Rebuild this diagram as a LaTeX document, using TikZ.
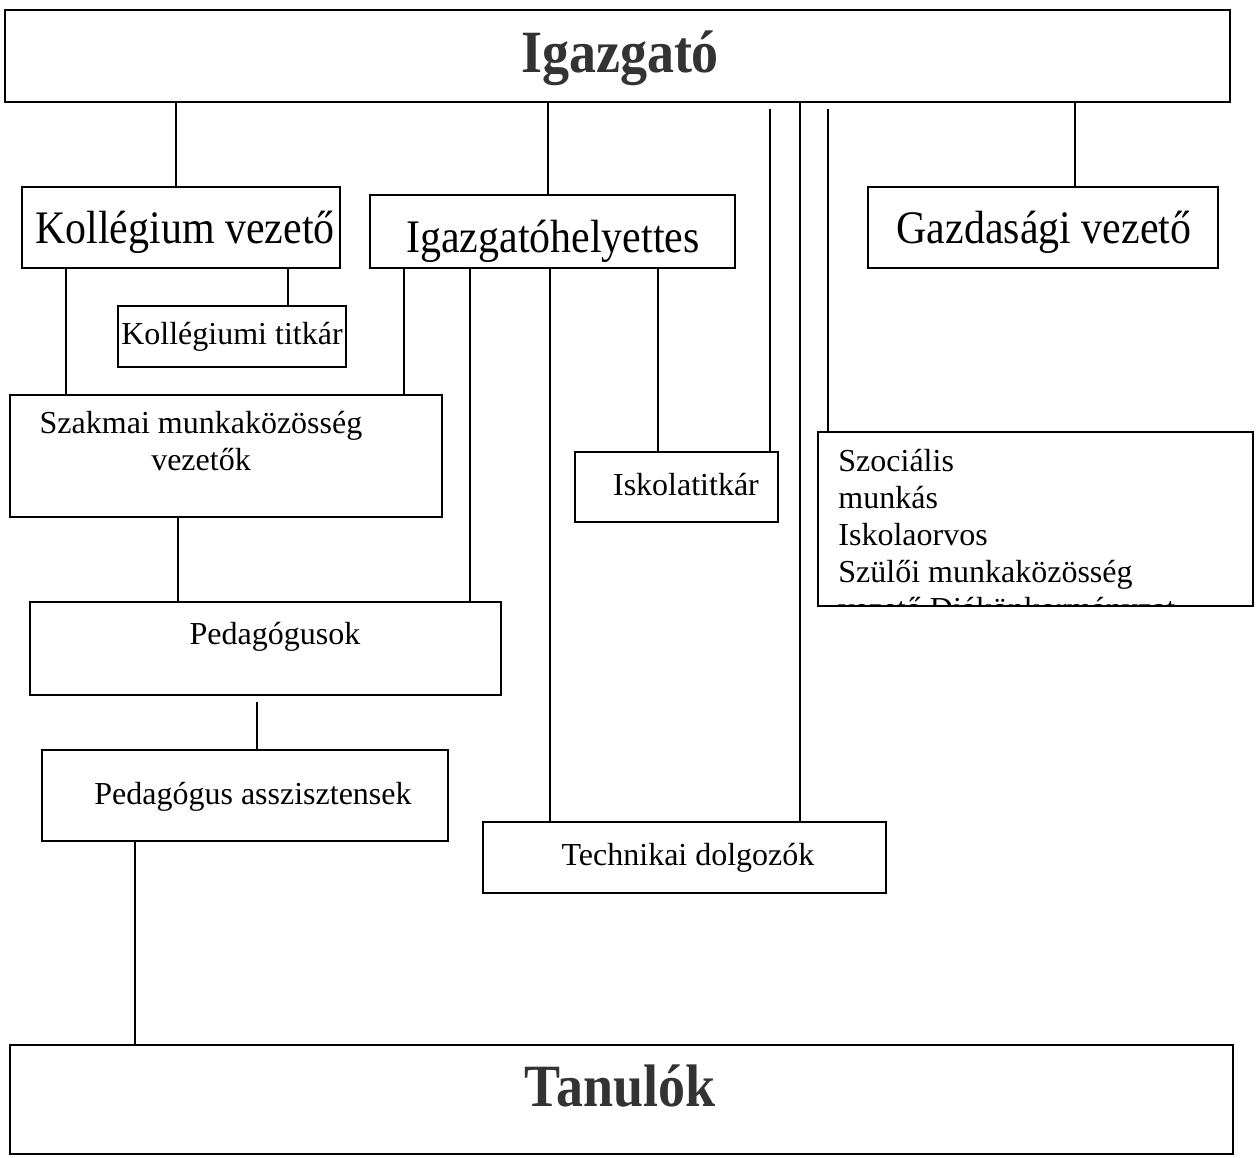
\documentclass[tikz,border=0pt]{standalone}
\usepackage{fontspec}
\setmainfont{Liberation Serif}
\newfontfamily\tallserif[FakeStretch=0.9]{Liberation Serif}
\usetikzlibrary{positioning}

\tikzset{
  box/.style={draw, line width=0.8pt, inner sep=0pt},
  bigtext/.style={font=\tallserif\fontsize{23.3}{27}\selectfont, inner sep=0pt, anchor=base},
  smalltext/.style={font=\fontsize{16}{18.5}\selectfont, inner sep=0pt},
  titletext/.style={font=\tallserif\fontsize{30}{34}\selectfont\bfseries, text=black!80, inner sep=0pt, anchor=base},
  conn/.style={line width=0.75pt}
}

\begin{document}
\begin{tikzpicture}[x=0.5pt, y=-0.5pt]
\useasboundingbox (0,0) rectangle (1260,1158);
% top and bottom
\node[box, minimum width=612.5pt, minimum height=46pt] (igaz) at (617.5,56) {};
\node[titletext] (igaztext) at (620,72) {Igazgató};
\node[box, minimum width=611.5pt, minimum height=54.5pt] (tan) at (621.5,1099.5) {};
\node[titletext] (tantext) at (620,1106) {Tanulók};

% second row
\node[box, minimum width=159pt, minimum height=40.5pt] (kv) at (181,227.5) {};
\node[bigtext] (kvtext) at (185,243) {Kollégium vezető};
\node[box, minimum width=182.5pt, minimum height=36.5pt] (ih) at (552.5,231.5) {};
\node[bigtext] (ihtext) at (553,252) {Igazgatóhelyettes};
\node[box, minimum width=175pt, minimum height=40.5pt] (gv) at (1043,227.5) {};
\node[bigtext] (gvtext) at (1044,243) {Gazdasági vezető};

% the rest
\node[box, smalltext, minimum width=114pt, minimum height=30.5pt] (kt) at (232,336.5) {Kollégiumi titkár};
\node[box, minimum width=216pt, minimum height=61pt] (szm) at (226,456) {};
\node[smalltext, align=center, anchor=north] (szmtext) at (201,411) {Szakmai munkaközösség\\vezetők};
\node[box, minimum width=101.5pt, minimum height=35pt] (it) at (676.5,487) {};
\node[smalltext, anchor=base] (ittext) at (686,495) {Iskolatitkár};
\node[box, minimum width=217.5pt, minimum height=87pt] (szoc) at (1035.5,519) {};
\begin{scope}
\clip (szoc.north west) rectangle (szoc.south east);
\node[smalltext, align=left, anchor=north west] (szoctext) at (838,449) {Szociális\\munkás\\Iskolaorvos\\Szülői munkaközösség\\vezető Diákönkormányzat};
\end{scope}
\node[box, minimum width=235.5pt, minimum height=46.5pt] (ped) at (265.5,648.5) {};
\node[smalltext, anchor=base] (pedtext) at (275,644) {Pedagógusok};
\node[box, minimum width=203pt, minimum height=45.5pt] (pa) at (245,795.5) {};
\node[smalltext, anchor=base] (patext) at (253,804) {Pedagógus asszisztensek};
\node[box, minimum width=201.5pt, minimum height=35.5pt] (td) at (684.5,857.5) {};
\node[smalltext, anchor=base] (tdtext) at (688,865) {Technikai dolgozók};

% lines from the top
\draw[conn] (igaz.south -| 176,0) -- (kv.north -| 176,0);
\draw[conn] (igaz.south -| 548,0) -- (ih.north -| 548,0);
\draw[conn] (igaz.south -| 1075,0) -- (gv.north -| 1075,0);
\draw[conn] (igaz.south -| 800,0) -- (td.north -| 800,0);
\draw[conn] (igaz.south -| 770,0) ++(0,6) -- (it.north -| 770,0);
\draw[conn] (igaz.south -| 828,0) ++(0,6) -- (szoc.north -| 828,0);

% lines below
\draw[conn] (kv.south -| 288,0) -- (kt.north -| 288,0);
\draw[conn] (kv.south -| 66,0) -- (szm.north -| 66,0);
\draw[conn] (ih.south -| 404,0) -- (szm.north -| 404,0);
\draw[conn] (ih.south -| 470,0) -- (ped.north -| 470,0);
\draw[conn] (ih.south -| 550,0) -- (td.north -| 550,0);
\draw[conn] (ih.south -| 658,0) -- (it.north -| 658,0);
\draw[conn] (szm.south -| 178,0) -- (ped.north -| 178,0);
\draw[conn] (ped.south -| 257,0) ++(0,6) -- (pa.north -| 257,0);
\draw[conn] (pa.south -| 135,0) -- (tan.north -| 135,0);
\end{tikzpicture}
\end{document}
